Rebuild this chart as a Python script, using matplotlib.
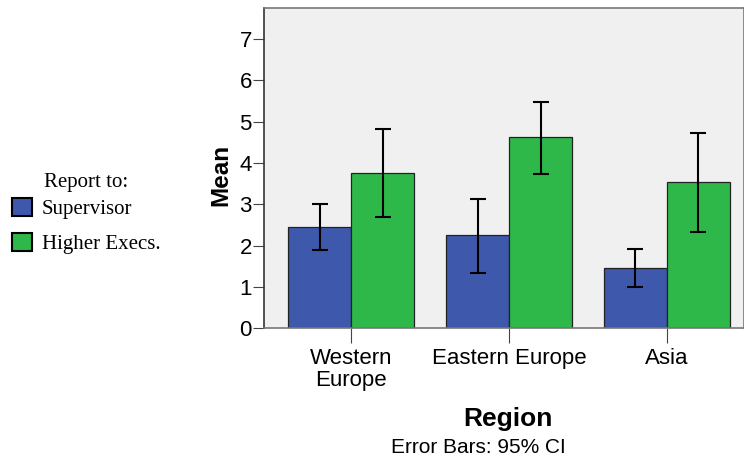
import matplotlib.pyplot as plt
import numpy as np

plt.rcParams['font.family'] = ['Liberation Sans', 'DejaVu Sans']

# medias por region y tipo de reporte
regions = ["Western\nEurope", "Eastern Europe", "Asia"]
supervisor = [2.45, 2.25, 1.46]
supervisor_lo = [1.90, 1.34, 0.99]
supervisor_hi = [3.00, 3.14, 1.92]
higher = [3.76, 4.62, 3.53]
higher_lo = [2.70, 3.74, 2.32]
higher_hi = [4.82, 5.48, 4.74]

blue = "#3e58ac"
green = "#2fb84a"

fig = plt.figure(figsize=(7.44, 4.59), dpi=100)
ax = fig.add_axes([0.3553, 0.2848, 1 - 0.3553, 0.9826 - 0.2848])
ax.set_facecolor("#f0f0f0")

x = np.arange(len(regions))
w = 0.4
err_s = [np.array(supervisor) - supervisor_lo, np.array(supervisor_hi) - supervisor]
err_h = [np.array(higher) - higher_lo, np.array(higher_hi) - higher]

b1 = ax.bar(x - w / 2, supervisor, w, color=blue, edgecolor="#222222", linewidth=0.9,
            label="Supervisor", zorder=2)
b2 = ax.bar(x + w / 2, higher, w, color=green, edgecolor="#222222", linewidth=0.9,
            label="Higher Execs.", zorder=2)
ax.errorbar(x - w / 2, supervisor, yerr=err_s, fmt="none", ecolor="black",
            elinewidth=1.5, capsize=6, capthick=1.5, zorder=3)
ax.errorbar(x + w / 2, higher, yerr=err_h, fmt="none", ecolor="black",
            elinewidth=1.5, capsize=6, capthick=1.5, zorder=3)

ax.set_xlim(-0.552, 2.49)
ax.set_ylim(0, 7.755)
ax.set_yticks(range(8))
ax.set_xticks(x)
ax.set_xticklabels(regions, fontsize=16, linespacing=1.05)
ax.tick_params(axis="y", labelsize=16, length=8, color="#444444", pad=1)
ax.tick_params(axis="x", length=11, color="#444444", pad=3)

for s in ax.spines.values():
    s.set_color("#777777")
    s.set_linewidth(1.2)
ax.spines["left"].set_color("#333333")

ax.set_ylabel("Mean", fontsize=17.5, fontweight="bold")
ax.yaxis.set_label_coords(-0.066, 0.48)
ax.set_xlabel("Region", fontsize=19, fontweight="bold")
ax.xaxis.set_label_coords(0.508, -0.245)
fig.text(0.643, 0.026, "Error Bars: 95% CI", fontsize=15, ha="center", va="center")

fig.text(44 / 744, 1 - 182 / 459, "Report to:", fontsize=15, family="Liberation Serif",
         va="center")
leg = fig.legend(handles=[b1, b2], loc="center left", bbox_to_anchor=(-0.003, 1 - 226 / 459),
                 frameon=False, prop={"family": "Liberation Serif", "size": 15},
                 handlelength=0.95, handleheight=0.95, handletextpad=0.45,
                 labelspacing=0.7, borderpad=0.2)
for h in leg.legend_handles:
    h.set_edgecolor("black")
    h.set_linewidth(1.5)

fig.savefig("out.png", dpi=100)
